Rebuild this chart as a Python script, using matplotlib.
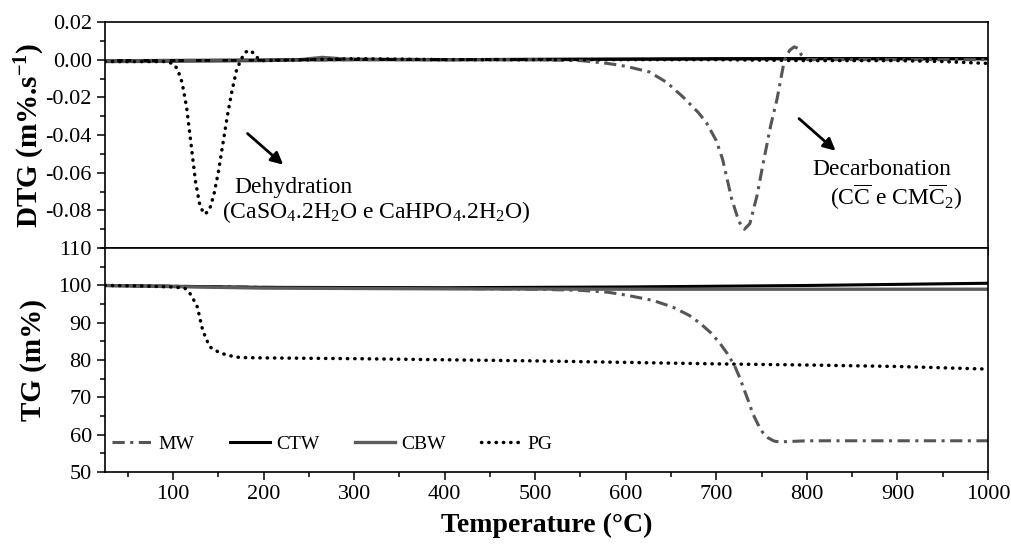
import matplotlib
matplotlib.use("Agg")
import matplotlib.pyplot as plt
from matplotlib.ticker import MultipleLocator

plt.rcParams['font.family'] = ['Liberation Serif', 'DejaVu Serif']
plt.rcParams['mathtext.fontset'] = 'custom'
plt.rcParams['mathtext.rm'] = 'Liberation Serif'
plt.rcParams['mathtext.bf'] = 'Liberation Serif:bold'
plt.rcParams['mathtext.default'] = 'regular'
plt.rcParams['axes.unicode_minus'] = False

# ---- DTG data (m%.s-1) ----
t_mw_dtg = [25, 100, 200, 300, 400, 500, 550, 580, 600, 626, 645, 663, 680, 689, 700,
            707, 717, 725, 731, 737, 745, 751, 760, 767, 775, 781, 786, 790, 794, 800,
            850, 900, 1000]
mw_dtg = [-0.0005, -0.0004, -0.0003, 0.0, 0.0, 0.0, -0.0005, -0.002, -0.0035, -0.0065,
          -0.012, -0.0197, -0.028, -0.0334, -0.043, -0.053, -0.074, -0.086, -0.090, -0.087,
          -0.072, -0.0567, -0.035, -0.021, -0.0006, 0.005, 0.0068, 0.006, 0.0025, 0.0,
          0.0, 0.0, 0.0]

t_ctw_dtg = [25, 100, 200, 300, 400, 500, 600, 700, 800, 900, 1000]
ctw_dtg = [-0.0005, -0.0004, -0.0002, 0.0, 0.0, 0.0002, 0.0003, 0.0005, 0.0006, 0.0006, 0.0006]

t_cbw_dtg = [25, 100, 200, 240, 265, 290, 400, 500, 600, 700, 800, 900, 1000]
cbw_dtg = [-0.001, -0.0009, -0.0005, 0.0, 0.0012, 0.0003, 0.0, 0.0, 0.0002, 0.0004,
           0.0005, 0.0004, 0.0004]

t_pg_dtg = [25, 60, 90, 100, 105, 110, 115, 120, 125, 130, 135, 140, 145, 150, 155, 160,
            165, 170, 175, 180, 185, 190, 195, 200, 250, 300, 400, 500, 600, 700, 800,
            900, 950, 1000]
pg_dtg = [-0.001, -0.001, -0.001, -0.002, -0.005, -0.012, -0.025, -0.045, -0.065, -0.078,
          -0.082, -0.080, -0.072, -0.060, -0.045, -0.030, -0.017, -0.006, 0.000, 0.004,
          0.005, 0.003, 0.000, -0.0005, 0.0, 0.0005, 0.0, 0.0, 0.0, 0.0, -0.0005,
          -0.0005, -0.001, -0.002]

# ---- TG data (m%) ----
t_mw_tg = [25, 100, 200, 300, 400, 500, 550, 580, 601, 630, 652, 670, 682, 694, 704, 712,
           720, 726, 731, 736, 740, 746, 751, 757, 764, 770, 800, 900, 1000]
mw_tg = [100, 99.8, 99.5, 99.3, 99.2, 99.0, 98.7, 98.2, 97.4, 96.0, 94.2, 92.0, 89.9, 87.3,
         84.5, 81.8, 78.6, 75.2, 71.9, 68.7, 65.8, 62.8, 60.7, 59.2, 58.3, 58.1, 58.4, 58.4, 58.4]

t_ctw_tg = [25, 200, 400, 600, 800, 1000]
ctw_tg = [100, 99.5, 99.4, 99.6, 100.0, 100.6]

t_cbw_tg = [25, 200, 400, 600, 800, 1000]
cbw_tg = [100, 99.3, 99.1, 99.0, 99.0, 99.0]

t_pg_tg = [25, 60, 100, 113, 120, 127, 132, 136, 141, 150, 160, 174, 200, 300, 400, 500,
           600, 700, 800, 900, 1000]
pg_tg = [100, 99.9, 99.6, 99.3, 97.5, 94.2, 88.8, 86.0, 83.5, 82.2, 81.3, 80.7, 80.6, 80.4,
         80.1, 79.8, 79.4, 79.0, 78.7, 78.3, 77.6]

x_ticks = [100, 200, 300, 400, 500, 600, 700, 800, 900, 1000]
dtg_ticks = [-0.08, -0.06, -0.04, -0.02, 0.00, 0.02]
tg_ticks = [50, 60, 70, 80, 90, 100, 110]

gray = '#555555'
mw_style = dict(color=gray, lw=2.2, ls=(0, (4, 1.8, 1, 1.8)))
ctw_style = dict(color='black', lw=2.2, ls='-')
cbw_style = dict(color='#5c5c5c', lw=2.4, ls='-')
pg_style = dict(color='black', lw=2.5, ls=(0, (0.1, 2)), dash_capstyle='round')

fig = plt.figure(figsize=(10.12, 5.49), dpi=100)
ax1 = fig.add_axes([0.1038, 0.548, 0.8725, 0.412])
ax2 = fig.add_axes([0.1038, 0.140, 0.8725, 0.408])

ax1.plot(t_cbw_dtg, cbw_dtg, **cbw_style)
ax1.plot(t_ctw_dtg, ctw_dtg, **ctw_style)
ax1.plot(t_mw_dtg, mw_dtg, **mw_style)
ax1.plot(t_pg_dtg, pg_dtg, **pg_style)

ax2.plot(t_mw_tg, mw_tg, label='MW', **mw_style)
ax2.plot(t_ctw_tg, ctw_tg, label='CTW', **ctw_style)
ax2.plot(t_cbw_tg, cbw_tg, label='CBW', **cbw_style)
ax2.plot(t_pg_tg, pg_tg, label='PG', **pg_style)

for ax in (ax1, ax2):
    ax.set_xlim(25, 1000)
    ax.set_xticks(x_ticks)
    ax.xaxis.set_minor_locator(MultipleLocator(50))
    ax.tick_params(which='both', direction='out', top=False, right=False,
                   labelsize=16, width=1.1)
    ax.tick_params(which='major', length=6)
    ax.tick_params(which='minor', length=3.5)
    for s in ax.spines.values():
        s.set_linewidth(1.2)

ax1.set_ylim(-0.1, 0.02)
ax1.set_yticks(dtg_ticks)
ax1.set_yticklabels([f'{v:.2f}' for v in dtg_ticks])
ax1.yaxis.set_minor_locator(MultipleLocator(0.01))
ax1.tick_params(axis='x', labelbottom=False)
ax1.set_ylabel(r'DTG (m%.s$^{\mathbf{-1}}$)', fontsize=21, fontweight='bold')
ax1.yaxis.set_label_coords(-0.066, 0.5)

ax2.set_ylim(50, 110)
ax2.set_yticks(tg_ticks)
ax2.yaxis.set_minor_locator(MultipleLocator(5))
ax2.set_ylabel('TG (m%)', fontsize=21, fontweight='bold')
ax2.yaxis.set_label_coords(-0.066, 0.5)
ax2.set_xlabel('Temperature (°C)', fontsize=20, fontweight='bold', labelpad=6)

# annotations
arrow = dict(arrowstyle='-|>', lw=2, color='black', mutation_scale=18)
ax1.annotate('', xy=(224, -0.0567), xytext=(180, -0.0382), arrowprops=arrow)
ax1.text(168, -0.0678, 'Dehydration', fontsize=17, ha='left', va='center')
ax1.text(154, -0.081, r'(CaSO$_4$.2H$_2$O e CaHPO$_4$.2H$_2$O)', fontsize=17,
         ha='left', va='center')
ax1.annotate('', xy=(834, -0.0493), xytext=(789, -0.0303), arrowprops=arrow)
ax1.text(806, -0.0583, 'Decarbonation', fontsize=17, ha='left', va='center')
ax1.text(825, -0.0731, r'(C$\overline{\mathrm{C}}$ e CM$\overline{\mathrm{C}}_2$)',
         fontsize=17, ha='left', va='center')

ax2.legend(loc='center left', bbox_to_anchor=(0.008, 0.125), ncol=4, frameon=False,
           fontsize=14, handlelength=2.1, handletextpad=0.3, columnspacing=1.8,
           borderpad=0, borderaxespad=0)

fig.savefig('out.png', dpi=100)
